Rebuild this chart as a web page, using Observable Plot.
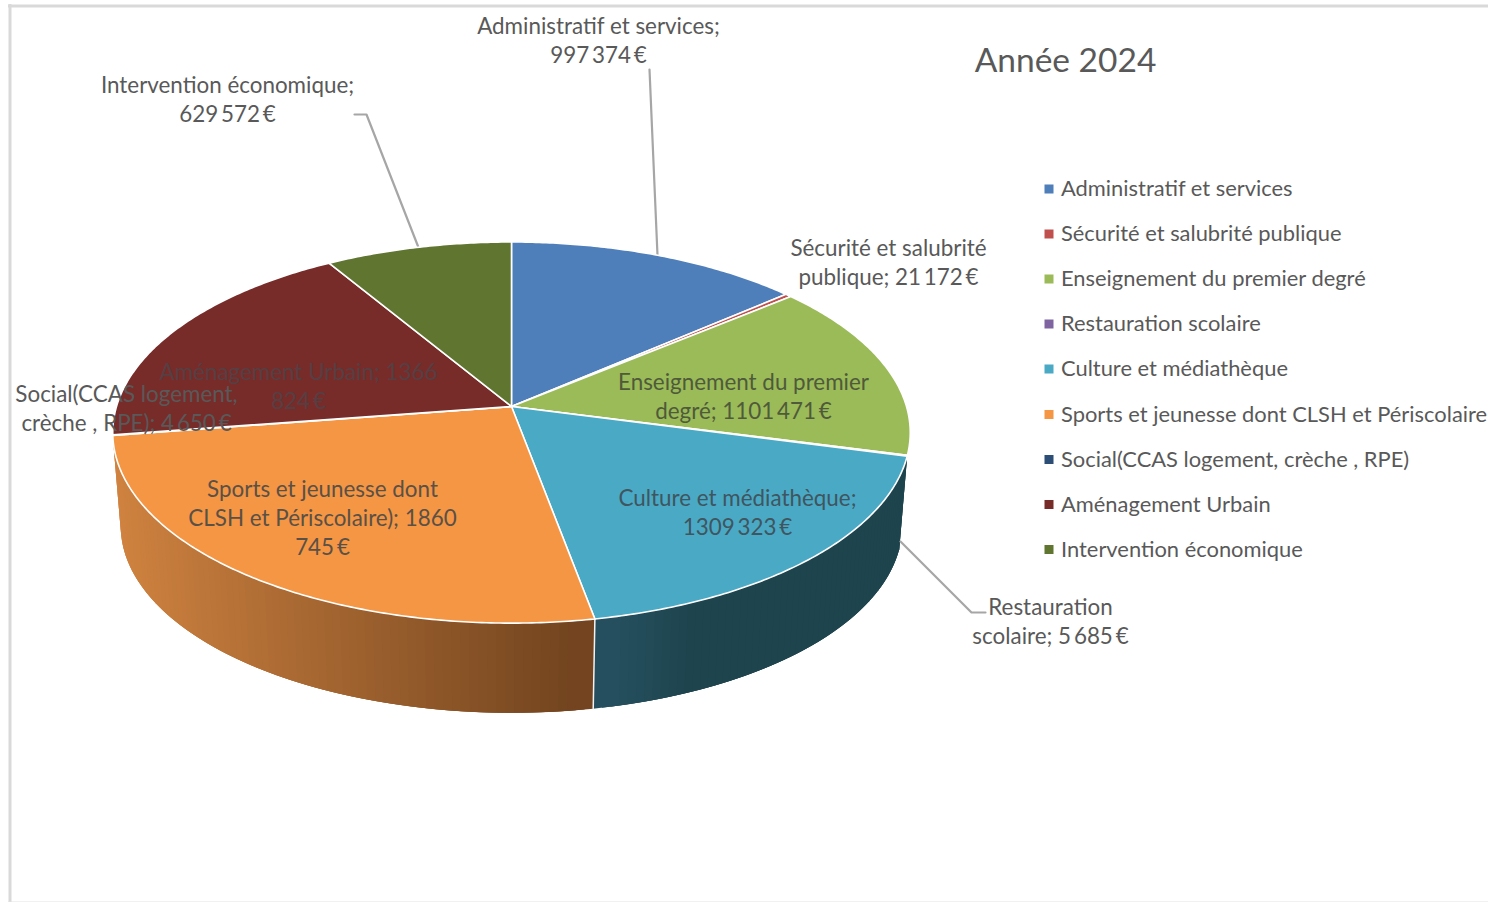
<!DOCTYPE html>
<html lang="fr">
<head>
<meta charset="utf-8">
<title>Année 2024</title>
<style>html,body{margin:0;padding:0;background:#fff;overflow:hidden}svg{display:block}</style>
<script src="https://cdn.jsdelivr.net/npm/d3@7"></script>
<script src="https://cdn.jsdelivr.net/npm/@observablehq/plot@0.6"></script>
</head>
<body>
<div id="chart"></div>
<script>
const categories = ["Administratif et services","Sécurité et salubrité publique","Enseignement du premier degré","Restauration scolaire","Culture et médiathèque","Sports et jeunesse dont CLSH et Périscolaire","Social(CCAS logement, crèche , RPE)","Aménagement Urbain","Intervention économique"];
const values = [997374, 21172, 1101471, 5685, 1309323, 1860745, 4650, 1366824, 629572];
const colors = ["#4F7FBA","#C0504D","#9BBB59","#8064A2","#4AAAC5","#F49644","#2C4D75","#772C2A","#5F7530"];
const labelTexts = ["Administratif et services;\n997\u2009374\u2009€","Sécurité et salubrité\npublique; 21\u2009172\u2009€","Enseignement du premier\ndegré; 1101\u2009471\u2009€","Restauration\nscolaire; 5\u2009685\u2009€","Culture et médiathèque;\n1309\u2009323\u2009€","Sports et jeunesse dont\nCLSH et Périscolaire); 1860\n745\u2009€","Social(CCAS logement,\ncrèche , RPE); 4\u2009650\u2009€","Aménagement Urbain; 1366\n824\u2009€","Intervention économique;\n629\u2009572\u2009€"];

// Layout of annotations (same page coordinates as the x/y scales)
const labelX = [598, 888, 743, 1050, 737, 322, 126, 298, 227];
const labelY = [38.5, 260.5, 394.5, 619.5, 510.5, 516.5, 406.5, 384.5, 97.5];
const labelFill = ["#595959","#595959","#4f5a3a","#595959","#3f5560","#5a5046","#595959","#563f42","#595959"];
const leaders = [
  [[649,69],[657,255]],
  [[354,114],[366,114],[418,247]],
  [[985,612],[971,612],[900,541]]
];
const legendX = 1048.5, legendTextX = 1060.5;
const legendY = [188.5,233.5,278.5,323.5,368.5,414,459,504,549];

// Perspective disc: a circle seen tilted, with its near side enlarged.
const cx = 511, cy = 406, rad = 395, sy = 187, k = 0.1368;
const depthScale = 0.98, depthShift = 94;
const topPt = a => {
  const X = Math.sin(a), Y = Math.cos(a), d = 1 + k * Y;
  return {x: cx + rad * X / d, y: cy - sy * Y / d};
};
const botPt = a => {
  const p = topPt(a);
  return {x: cx + (p.x - cx) * depthScale, y: cy + (p.y - cy) * depthScale + depthShift};
};

const arcs = d3.pie().sort(null)(values);

// Top face polygons
const topRows = [];
arcs.forEach((s, i) => {
  topRows.push({id: i, x: cx, y: cy, c: colors[i]});
  const n = Math.max(2, Math.ceil((s.endAngle - s.startAngle) / 0.01));
  for (let j = 0; j <= n; j++) {
    const a = s.startAngle + (s.endAngle - s.startAngle) * j / n;
    topRows.push({id: i, ...topPt(a), c: colors[i]});
  }
});

// Side wall bands with a horizontal shade; each band runs under the next one
const shades = {
  4: {from:"#25505f", to:"#1e444e", x0:595, x1:675},
  5: {from:"#d08340", to:"#72441f", x0:115, x1:593}
};
const sideRows = [];
const wallOrder = [[4, -1], [5, 1]];
wallOrder.forEach(([i, dir]) => {
  const s = arcs[i], a0 = s.startAngle, a1 = s.endAngle;
  const n = Math.ceil((a1 - a0) / 0.02), sh = shades[i];
  const ramp = d3.interpolateRgb(sh.from, sh.to);
  for (let j = 0; j < n; j++) {
    const q = dir > 0 ? n - 1 - j : j;           // paint from far end toward the seam
    const u = a0 + (a1 - a0) * q / n;
    const v = Math.min(a1, a0 + (a1 - a0) * (q + 3) / n);
    const mid = a0 + (a1 - a0) * (q + 0.5) / n;
    const t = Math.min(1, Math.max(0, (topPt(mid).x - sh.x0) / (sh.x1 - sh.x0)));
    const c = d3.rgb(ramp(t)).formatHex();
    const id = i + "-" + j;
    const pts = dir > 0
      ? [topPt(u), topPt(v), botPt(v), botPt(u)]
      : [topPt(Math.max(a0, a0 + (a1 - a0) * (q - 2) / n)), topPt(a0 + (a1 - a0) * (q + 1) / n), botPt(a0 + (a1 - a0) * (q + 1) / n), botPt(Math.max(a0, a0 + (a1 - a0) * (q - 2) / n))];
    pts.forEach(p => sideRows.push({id, ...p, c}));
  }
});
const dividerA = arcs[4].endAngle;
const divider = [topPt(dividerA), botPt(dividerA)];

const labels = labelTexts.map((t, i) => ({t, x: labelX[i], y: labelY[i], f: labelFill[i]}));
const legend = categories.map((name, i) => ({name, c: colors[i], y: legendY[i]}));
const leaderRows = leaders.flatMap((l, id) => l.map(([x, y]) => ({id, x, y})));

const fontFamily = "Lato, Carlito, sans-serif";
const chart = Plot.plot({
  width: 1488, height: 902,
  margin: 0,
  x: {type: "linear", domain: [0, 1488], range: [0, 1488], axis: null},
  y: {type: "linear", domain: [0, 902], range: [0, 902], axis: null},
  color: {type: "identity"},
  style: {background: "#fff", fontFamily},
  marks: [
    Plot.ruleX([9.5], {y1: 4, y2: 902, stroke: "#d9d9d9", strokeWidth: 3}),
    Plot.ruleY([5.5], {x1: 8, x2: 1488, stroke: "#d9d9d9", strokeWidth: 3}),
    Plot.ruleY([901.5], {x1: 8, x2: 1488, stroke: "#e3e3e3", strokeWidth: 1}),
    Plot.line(sideRows, {x: "x", y: "y", z: "id", fill: "c", stroke: "none", curve: "linear-closed"}),
    Plot.line(divider, {x: "x", y: "y", stroke: "#f2f2f2", strokeWidth: 1.5}),
    Plot.line(leaderRows, {x: "x", y: "y", z: "id", stroke: "#a6a6a6", strokeWidth: 2.2}),
    Plot.line(topRows, {x: "x", y: "y", z: "id", fill: "c", stroke: "#fff", strokeWidth: 1.6, curve: "linear-closed", strokeLinejoin: "round"}),
    Plot.text(labels, {x: "x", y: "y", text: "t", fill: "f", fontSize: 22.4, lineHeight: 29/22.4, textAnchor: "middle", lineAnchor: "middle", fontFamily}),
    Plot.text(["Année 2024"], {x: 1065, y: 61, text: d => d, fill: "#595959", fontSize: 33.5, textAnchor: "middle", lineAnchor: "middle", fontFamily}),
    Plot.dot(legend, {x: legendX, y: "y", fill: "c", symbol: "square", r: 5.08, stroke: "none"}),
    Plot.text(legend, {x: legendTextX, y: "y", text: "name", fill: "#595959", fontSize: 21.9, textAnchor: "start", lineAnchor: "middle", fontFamily})
  ]
});
document.getElementById("chart").append(chart);
</script>
</body>
</html>
